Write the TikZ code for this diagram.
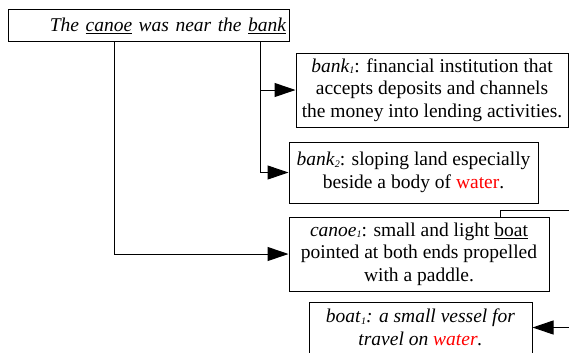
\documentclass[tikz,border=0pt]{standalone}
\usepackage{fontspec}
\setmainfont{Liberation Serif}
\usetikzlibrary{arrows.meta}
\tikzset{
  box/.style={draw, line width=1bp, inner sep=0pt, align=center, font=\fontsize{19.5bp}{22.5bp}\selectfont},
  arr/.style={line width=1bp, -{Triangle[length=21bp,width=14bp]}},
}
\newcommand{\sbs}[1]{\raisebox{-1.5bp}{\fontsize{10bp}{10bp}\selectfont\textit{#1}}}
\begin{document}
\begin{tikzpicture}[x=1bp,y=-1bp]
\useasboundingbox (0,0) rectangle (569,352);
\node[box, minimum width=280bp, minimum height=32bp, text width=274bp, align=right] (top) at (149,25.5)
  {\textit{The \underline{canoe} was near the \underline{bank}}};
\node[box, minimum width=272bp, minimum height=74bp] (bank1) at (432,90)
  {\textit{bank}\sbs{1}: financial institution that\\accepts deposits and channels\\the money into lending activities.};
\node[box, minimum width=249bp, minimum height=61bp] (bank2) at (413.5,172.5)
  {\textit{bank}\sbs{2}: sloping land especially\\beside a body of \textcolor{red}{water}.};
\node[box, minimum width=260bp, minimum height=74bp] (canoe) at (419,254)
  {\textit{canoe}\sbs{1}: small and light \underline{boat}\\pointed at both ends propelled\\with a paddle.};
\node[box, minimum width=223bp, minimum height=51bp] (boat) at (420.5,327.5)
  {\textit{boat}\sbs{1}\textit{: a small vessel for}\\\textit{travel on \textcolor{red}{water}.}};
\coordinate (cx) at (114,0);
\coordinate (bx) at (260,0);
\coordinate (ux) at (500,0);
\coordinate (e) at (590,210);
\draw[arr] (top.south -| cx) |- (canoe.west);
\draw[arr] (top.south -| bx) |- (bank2.west);
\draw[arr] (bx |- bank1.west) -- (bank1.west);
\draw[arr] (canoe.north -| ux) |- (e) |- (boat.east);
\end{tikzpicture}
\end{document}
